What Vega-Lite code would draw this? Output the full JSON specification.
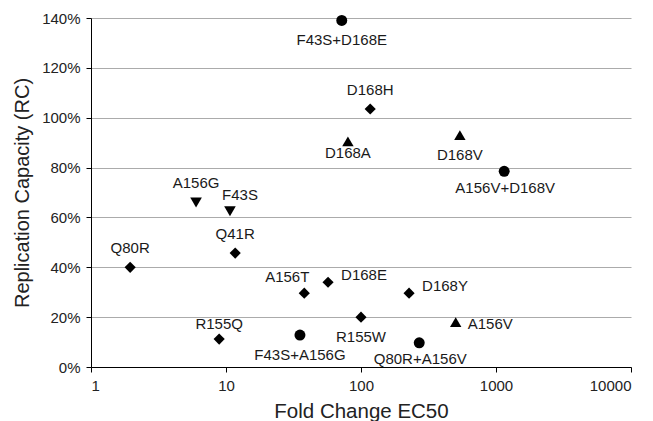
{
  "$schema": "https://vega.github.io/schema/vega-lite/v6.json",
  "width": 540,
  "height": 349,
  "autosize": "none",
  "padding": {"left": 91, "top": 18, "right": 22, "bottom": 54},
  "background": "white",
  "config": {
    "view": {"stroke": null},
    "font": "Liberation Sans",
    "axis": {"labelFont": "Liberation Sans", "titleFont": "Liberation Sans", "titleFontWeight": "normal", "labelColor": "#222", "titleColor": "#222"},
    "text": {"font": "Liberation Sans", "fontSize": 15, "baseline": "middle", "color": "#1a1a1a"}
  },
  "data": {
    "values": [
      {"name": "F43S+D168E", "fold": 72, "rc": 1.39, "class": "double"},
      {"name": "D168H", "fold": 117, "rc": 1.035, "class": "diamond"},
      {"name": "D168A", "fold": 80, "rc": 0.905, "class": "up"},
      {"name": "D168V", "fold": 540, "rc": 0.93, "class": "up"},
      {"name": "A156V+D168V", "fold": 1150, "rc": 0.785, "class": "double"},
      {"name": "A156G", "fold": 6.0, "rc": 0.66, "class": "down"},
      {"name": "F43S", "fold": 10.7, "rc": 0.625, "class": "down"},
      {"name": "Q80R", "fold": 1.95, "rc": 0.40, "class": "diamond"},
      {"name": "Q41R", "fold": 11.7, "rc": 0.457, "class": "diamond"},
      {"name": "A156T", "fold": 38, "rc": 0.296, "class": "diamond"},
      {"name": "D168E", "fold": 57, "rc": 0.34, "class": "diamond"},
      {"name": "D168Y", "fold": 227, "rc": 0.296, "class": "diamond"},
      {"name": "R155W", "fold": 100, "rc": 0.20, "class": "diamond"},
      {"name": "A156V", "fold": 503, "rc": 0.18, "class": "up"},
      {"name": "Q80R+A156V", "fold": 270, "rc": 0.097, "class": "double"},
      {"name": "R155Q", "fold": 8.9, "rc": 0.112, "class": "diamond"},
      {"name": "F43S+A156G", "fold": 35.3, "rc": 0.128, "class": "double"}
    ]
  },
  "encoding": {
    "x": {
      "field": "fold", "type": "quantitative",
      "scale": {"type": "log", "domain": [1, 10000], "nice": false},
      "axis": {
        "title": "Fold Change EC50", "values": [1, 10, 100, 1000, 10000], "format": "d",
        "grid": false, "domainColor": "#000", "tickColor": "#000", "tickSize": 5,
        "labelFontSize": 15, "titleFontSize": 20.5, "titlePadding": 8, "labelPadding": 6
      }
    },
    "y": {
      "field": "rc", "type": "quantitative",
      "scale": {"domain": [0, 1.4], "nice": false},
      "axis": {
        "title": "Replication Capacity (RC)", "values": [0, 0.2, 0.4, 0.6, 0.8, 1.0, 1.2, 1.4], "format": ".0%",
        "grid": true, "gridColor": "#ababab", "gridWidth": 1,
        "domainColor": "#000", "tickColor": "#000", "tickSize": 5,
        "labelFontSize": 15, "titleFontSize": 20, "titlePadding": 9, "labelPadding": 6
      }
    }
  },
  "layer": [
    {
      "mark": {"type": "point", "filled": true, "opacity": 1, "color": "#000"},
      "encoding": {
        "shape": {"field": "class", "type": "nominal", "legend": null,
          "scale": {"domain": ["double", "diamond", "up", "down"], "range": ["circle", "diamond", "triangle-up", "triangle-down"]}},
        "size": {"field": "class", "type": "nominal", "legend": null,
          "scale": {"domain": ["double", "diamond", "up", "down"], "range": [120, 135, 125, 125]}}
      }
    },
    {
      "transform": [{"filter": {"field": "name", "oneOf": ["D168H", "A156G", "Q80R", "Q41R"]}}],
      "mark": {"type": "text", "dy": -19, "align": "center"},
      "encoding": {"text": {"field": "name"}}
    },
    {
      "transform": [{"filter": {"field": "name", "equal": "R155Q"}}],
      "mark": {"type": "text", "dy": -15, "align": "center"},
      "encoding": {"text": {"field": "name"}}
    },
    {
      "transform": [{"filter": {"field": "name", "equal": "F43S"}}],
      "mark": {"type": "text", "dy": -16, "dx": 10, "align": "center"},
      "encoding": {"text": {"field": "name"}}
    },
    {
      "transform": [{"filter": {"field": "name", "equal": "A156T"}}],
      "mark": {"type": "text", "dy": -16, "dx": -17, "align": "center"},
      "encoding": {"text": {"field": "name"}}
    },
    {
      "transform": [{"filter": {"field": "name", "oneOf": ["F43S+D168E", "F43S+A156G", "D168V", "R155W"]}}],
      "mark": {"type": "text", "dy": 20, "align": "center"},
      "encoding": {"text": {"field": "name"}}
    },
    {
      "transform": [{"filter": {"field": "name", "oneOf": ["A156V+D168V", "Q80R+A156V"]}}],
      "mark": {"type": "text", "dy": 16.5, "dx": 1, "align": "center"},
      "encoding": {"text": {"field": "name"}}
    },
    {
      "transform": [{"filter": {"field": "name", "equal": "D168A"}}],
      "mark": {"type": "text", "dy": 12, "align": "center"},
      "encoding": {"text": {"field": "name"}}
    },
    {
      "transform": [{"filter": {"field": "name", "oneOf": ["D168E", "D168Y"]}}],
      "mark": {"type": "text", "dx": 13, "dy": -7, "align": "left"},
      "encoding": {"text": {"field": "name"}}
    },
    {
      "transform": [{"filter": {"field": "name", "equal": "A156V"}}],
      "mark": {"type": "text", "dx": 12, "dy": 2, "align": "left"},
      "encoding": {"text": {"field": "name"}}
    }
  ]
}
